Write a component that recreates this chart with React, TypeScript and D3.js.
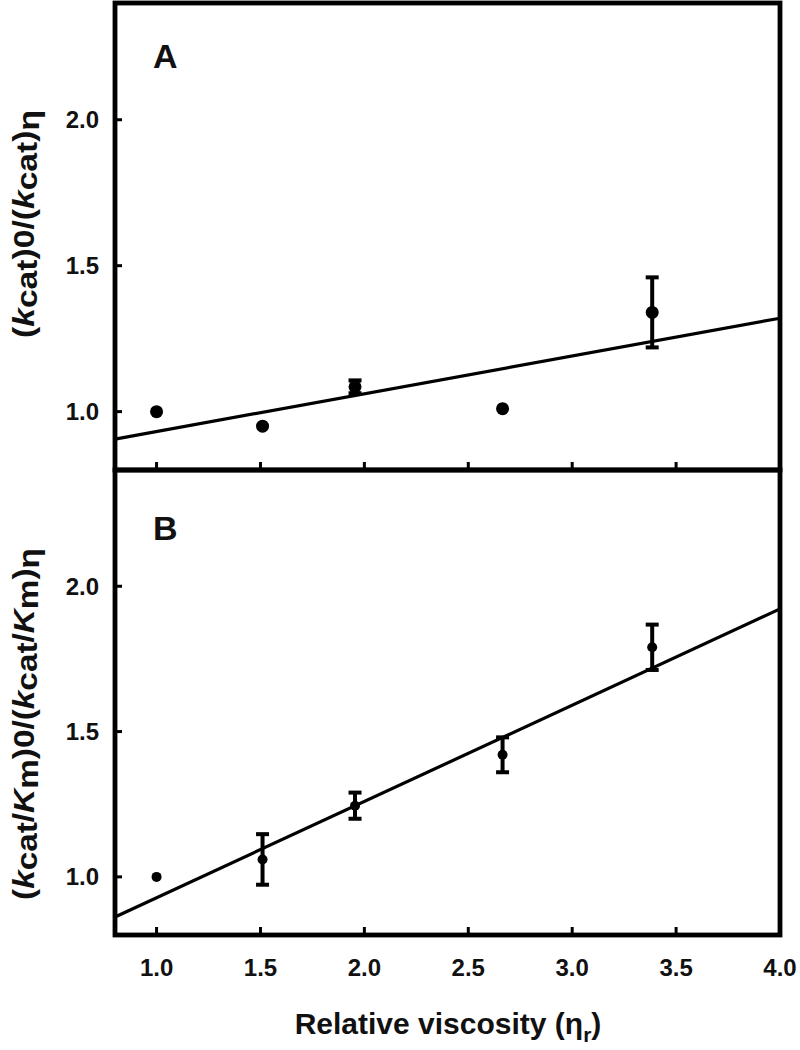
import React from "react";
import * as d3 from "d3";

const xTicks = [1.0, 1.5, 2.0, 2.5, 3.0, 3.5, 4.0];
const yTicks = [1.0, 1.5, 2.0];
const viscosity = [1.0, 1.51, 1.955, 2.665, 3.385];
const kcatRatio = [1.0, 0.95, 1.085, 1.01, 1.34];
const kcatErr = [0, 0, 0.022, 0, 0.12];
const kcatKmRatio = [1.0, 1.06, 1.245, 1.42, 1.79];
const kcatKmErr = [0, 0.087, 0.045, 0.06, 0.078];
const fitX = [0.8, 4.0];
const fitA = [0.906, 1.32];
const fitB = [0.862, 1.922];

const W = 800;
const H = 1050;
const L = 115;
const R = 780;
const FONT = "'Liberation Sans', Arial, sans-serif";

const x = d3.scaleLinear().domain([0.8, 4.0]).range([L, R]);

function Panel({ top, bottom, ys, errs, fit, r, letter, letterY, label, labelY }) {
  const y = d3.scaleLinear().domain([0.8, 2.4]).range([bottom, top]);
  const line = d3.line<number>().x((d) => x(d)).y((_, i) => y(fit[i]));
  return (
    <g>
      <path d={line(fitX) || ""} stroke="#000" strokeWidth={3.2} fill="none" />
      {viscosity.map((v, i) =>
        errs[i] > 0 ? (
          <g key={"e" + i} stroke="#000" strokeWidth={4}>
            <line x1={x(v)} x2={x(v)} y1={y(ys[i] - errs[i])} y2={y(ys[i] + errs[i])} />
            <line x1={x(v) - 6.5} x2={x(v) + 6.5} y1={y(ys[i] + errs[i])} y2={y(ys[i] + errs[i])} />
            <line x1={x(v) - 6.5} x2={x(v) + 6.5} y1={y(ys[i] - errs[i])} y2={y(ys[i] - errs[i])} />
          </g>
        ) : null
      )}
      {viscosity.map((v, i) => (
        <circle key={"p" + i} cx={x(v)} cy={y(ys[i])} r={r} fill="#000" />
      ))}
      {yTicks.map((t) => (
        <g key={"yt" + t}>
          <line x1={L} x2={L + 7} y1={y(t)} y2={y(t)} stroke="#000" strokeWidth={3} />
          <text x={99} y={y(t) + 8.5} textAnchor="end" fontSize={24} fontWeight="bold" fontFamily={FONT} fill="#111">
            {t.toFixed(1)}
          </text>
        </g>
      ))}
      {xTicks.map((t) => (
        <line key={"xt" + t} x1={x(t)} x2={x(t)} y1={bottom} y2={bottom - 8} stroke="#000" strokeWidth={3} />
      ))}
      <text x={153} y={letterY} fontSize={34} fontWeight="bold" fontFamily={FONT} fill="#111">
        {letter}
      </text>
      <g transform={`translate(34, ${labelY}) rotate(-90)`}>{label}</g>
      <rect x={L} y={top} width={R - L} height={bottom - top} fill="none" stroke="#000" strokeWidth={4.8} />
    </g>
  );
}

export default function App() {
  const labelA = (
    <text textAnchor="middle" fontSize={30} fontWeight="bold" fontFamily={FONT} fill="#111" textLength={228} lengthAdjust="spacingAndGlyphs">
      (<tspan fontStyle="italic">k</tspan>
      <tspan dy={3}>cat</tspan>
      <tspan dy={-3}>)0/(</tspan>
      <tspan fontStyle="italic">k</tspan>
      <tspan dy={3}>cat</tspan>
      <tspan dy={-3}>)</tspan>
      <tspan dy={5}>η</tspan>
    </text>
  );
  const labelB = (
    <text textAnchor="middle" fontSize={30} fontWeight="bold" fontFamily={FONT} fill="#111" textLength={352} lengthAdjust="spacingAndGlyphs">
      (<tspan fontStyle="italic">k</tspan>
      <tspan dy={3}>cat</tspan>
      <tspan dy={-3}>/</tspan>
      <tspan fontStyle="italic">K</tspan>
      <tspan dy={4}>m</tspan>
      <tspan dy={-4}>)0/(</tspan>
      <tspan fontStyle="italic">k</tspan>
      <tspan dy={3}>cat</tspan>
      <tspan dy={-3}>/</tspan>
      <tspan fontStyle="italic">K</tspan>
      <tspan dy={4}>m</tspan>
      <tspan dy={-4}>)</tspan>
      <tspan dy={5}>η</tspan>
    </text>
  );
  return (
    <svg width={W} height={H} style={{ position: "absolute", left: 0, top: 0, background: "#fff" }}>
      <rect x={0} y={0} width={W} height={H} fill="#fff" />
      <Panel top={3} bottom={470} ys={kcatRatio} errs={kcatErr} fit={fitA} r={6.5} letter="A" letterY={68} label={labelA} labelY={224} />
      <Panel top={470} bottom={935} ys={kcatKmRatio} errs={kcatKmErr} fit={fitB} r={5} letter="B" letterY={540} label={labelB} labelY={724} />
      {xTicks.map((t) => (
        <text key={"xl" + t} x={x(t)} y={976} textAnchor="middle" fontSize={24} fontWeight="bold" fontFamily={FONT} fill="#111">
          {t.toFixed(1)}
        </text>
      ))}
      <text x={448} y={1034} textAnchor="middle" fontSize={30} fontWeight="bold" fontFamily={FONT} fill="#111">
        Relative viscosity (η<tspan fontSize={21} dy={8}>r</tspan>
        <tspan dy={-8}>)</tspan>
      </text>
    </svg>
  );
}
